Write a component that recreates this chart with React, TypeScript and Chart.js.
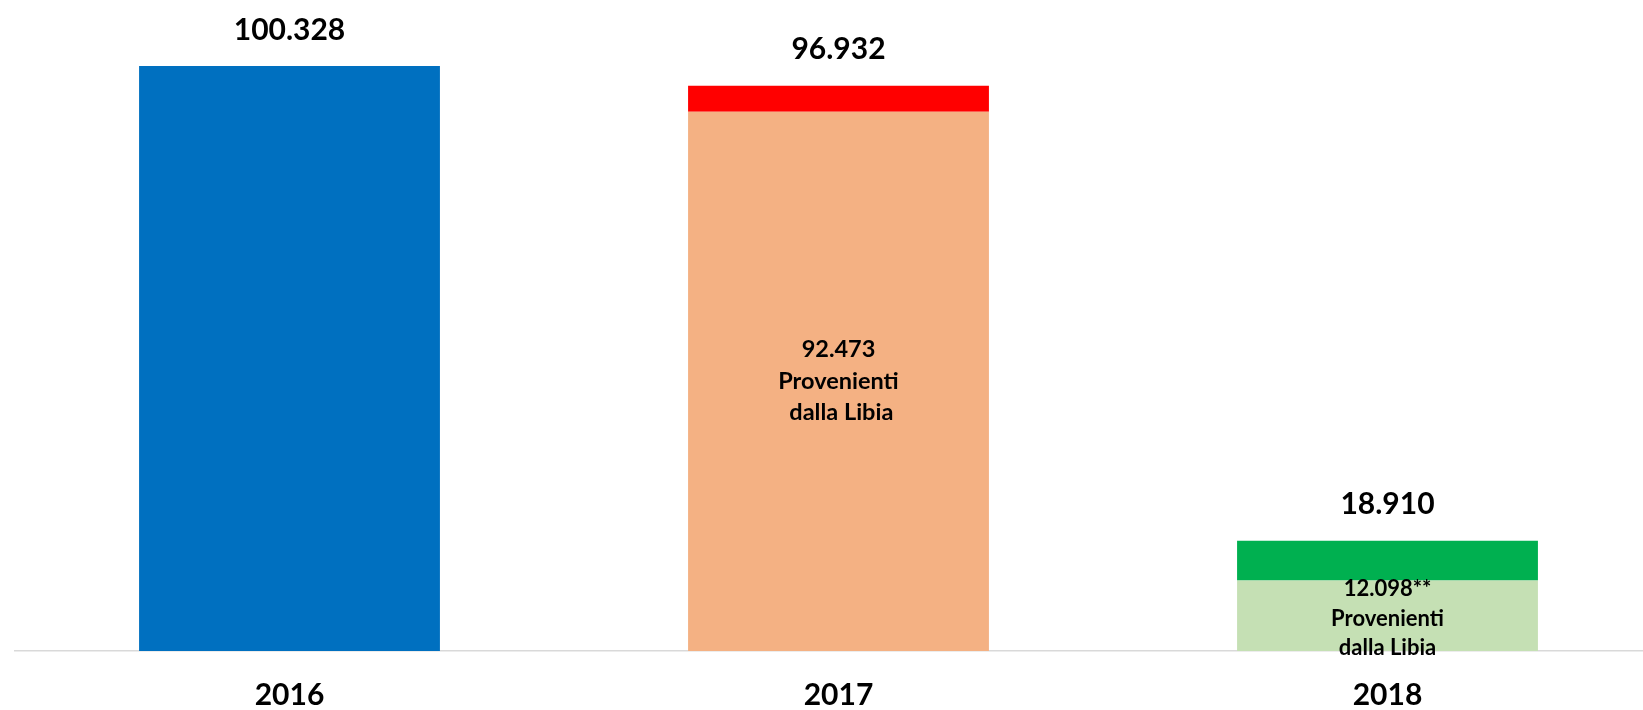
import React, { useEffect, useRef } from "react";
import { Chart, registerables } from "chart.js";

Chart.register(...registerables);

const categories = ["2016", "2017", "2018"];
const totals = [100.328, 96.932, 18.91];
const libia = [null, 92.473, 12.098];
const totalLabels = ["100.328", "96.932", "18.910"];
const innerLabels: (string[] | null)[] = [
  null,
  ["92.473", "Provenienti", " dalla Libia"],
  ["12.098**", "Provenienti", "dalla Libia"],
];
const baseColors = ["#0070C0", "#F4B183", "#C5E0B4"];
const topColors = ["#0070C0", "#FF0000", "#00B050"];

const baseValues = totals.map((t, i) => (libia[i] == null ? t : (libia[i] as number)));
const topValues = totals.map((t, i) => +(t - baseValues[i]).toFixed(3));

const FONT = "Lato, 'Open Sans', sans-serif";

const labelPlugin = {
  id: "valueLabels",
  afterDatasetsDraw(chart: any) {
    const ctx = chart.ctx;
    const x = chart.scales.x;
    const y = chart.scales.y;
    ctx.save();
    ctx.fillStyle = "#000";
    ctx.textAlign = "center";
    ctx.textBaseline = "middle";
    categories.forEach((_, i) => {
      const cx = x.getPixelForValue(i);
      ctx.font = `bold 30px ${FONT}`;
      ctx.fillText(totalLabels[i], cx, y.getPixelForValue(totals[i]) - 36);
      const inner = innerLabels[i];
      if (inner) {
        ctx.font = `bold ${i === 1 ? 23.5 : 22}px ${FONT}`;
        const segMid = (y.getPixelForValue(0) + y.getPixelForValue(baseValues[i])) / 2 + (i === 2 ? 3 : 0);
        const spacing = i === 1 ? 31.5 : 29.5;
        const start = segMid - ((inner.length - 1) * spacing) / 2;
        inner.forEach((line, k) => ctx.fillText(line, cx, start + k * spacing));
      }
    });
    ctx.restore();
  },
};

export default function App() {
  const ref = useRef<HTMLCanvasElement | null>(null);
  useEffect(() => {
    if (!ref.current) return;
    const chart = new Chart(ref.current, {
      type: "bar",
      data: {
        labels: categories,
        datasets: [
          { data: baseValues, backgroundColor: baseColors, barPercentage: 0.548, categoryPercentage: 1 },
          { data: topValues, backgroundColor: topColors, barPercentage: 0.548, categoryPercentage: 1 },
        ],
      },
      options: {
        animation: false,
        responsive: true,
        maintainAspectRatio: false,
        layout: { padding: { left: 15, right: 0, top: 0, bottom: 0 } },
        plugins: { legend: { display: false }, tooltip: { enabled: false } },
        scales: {
          x: {
            stacked: true,
            grid: { display: false, drawTicks: false },
            border: { display: true, color: "#D9D9D9", width: 1.5 },
            ticks: { color: "#000", padding: 26, font: { family: FONT, size: 30, weight: "bold" } },
          },
          y: {
            stacked: true,
            display: false,
            min: 0,
            max: 111.65,
          },
        },
      },
      plugins: [labelPlugin],
    });
    return () => chart.destroy();
  }, []);
  return (
    <div style={{ position: "fixed", left: 0, top: 0, width: 1643, height: 710, overflow: "hidden", background: "#fff" }}>
      <div style={{ position: "absolute", left: 0, top: 0, width: 1662, height: 739 }}>
        <canvas ref={ref} />
      </div>
    </div>
  );
}
